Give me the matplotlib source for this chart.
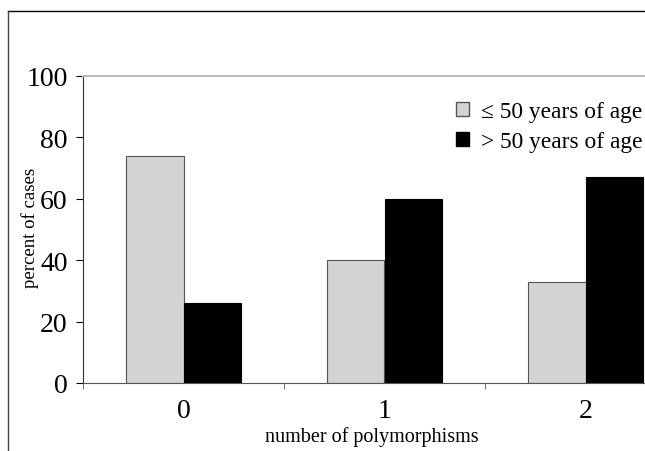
import matplotlib
matplotlib.use("Agg")
import matplotlib.pyplot as plt
from matplotlib.patches import Patch
from matplotlib.lines import Line2D
import numpy as np

plt.rcParams["font.family"] = ["Liberation Serif", "DejaVu Serif"]

categories = ["0", "1", "2"]
young = [74, 40, 33]   # <= 50 years of age
old = [26, 60, 67]     # > 50 years of age
labels = ["\u2264 50 years of age", "> 50 years of age"]
yticks = [0, 20, 40, 60, 80, 100]

W, H = 645, 452
fig = plt.figure(figsize=(W / 100, H / 100), dpi=100)

# plot area in pixels: left 83, right 686 (cut off), top 77, bottom 384
left, right, top, bottom = 83, 686, 77, 384
ax = fig.add_axes([left / W, 1 - bottom / H, (right - left) / W, (bottom - top) / H])

x = np.arange(len(categories))
w = 1 / 3.5
ax.bar(x - w / 2, young, w, color="#d3d3d3", edgecolor="#555555", linewidth=0.8)
ax.bar(x + w / 2, old, w, color="black", edgecolor="black", linewidth=0.8)

ax.set_xlim(-0.5, len(categories) - 0.5)
ax.set_ylim(0, 100)
ax.set_yticks(yticks)
ax.set_yticklabels([str(t) for t in yticks], fontsize=20)
ax.set_xticks(x)
ax.set_xticklabels(categories, fontsize=20)
ax.set_xticks(np.arange(-0.5, len(categories), 1), minor=True)
ax.tick_params(axis="x", which="major", length=0, pad=11)
ax.tick_params(axis="x", which="minor", length=4, direction="out", color="#555555")
ax.tick_params(axis="y", length=5, direction="out", pad=6)

ax.spines["right"].set_visible(False)
ax.spines["top"].set_color("#bbbbbb")
ax.spines["top"].set_linewidth(1.5)
ax.spines["left"].set_color("#333333")
ax.spines["bottom"].set_color("#555555")

fig.text(372 / W, 1 - 437 / H, "number of polymorphisms", fontsize=14.5,
         ha="center", va="center")
fig.text(30 / W, 1 - 228 / H, "percent of cases", fontsize=13.5, rotation=90,
         ha="center", va="center")

handles = [Patch(facecolor="#d3d3d3", edgecolor="#555555"),
           Patch(facecolor="black", edgecolor="black")]
fig.legend(handles, labels, loc="upper left", bbox_to_anchor=(456 / W, 1 - 102 / H),
           frameon=False, fontsize=16.8, handlelength=0.57, handleheight=0.57,
           handletextpad=0.5, labelspacing=0.4, borderpad=0, borderaxespad=0)

# outer frame lines
fig.add_artist(Line2D([8 / W, 1], [1 - 12 / H, 1 - 12 / H], color="black", linewidth=1))
fig.add_artist(Line2D([8 / W, 8 / W], [0, 1 - 12 / H], color="#444444", linewidth=1))

fig.savefig("out.png", dpi=100)
